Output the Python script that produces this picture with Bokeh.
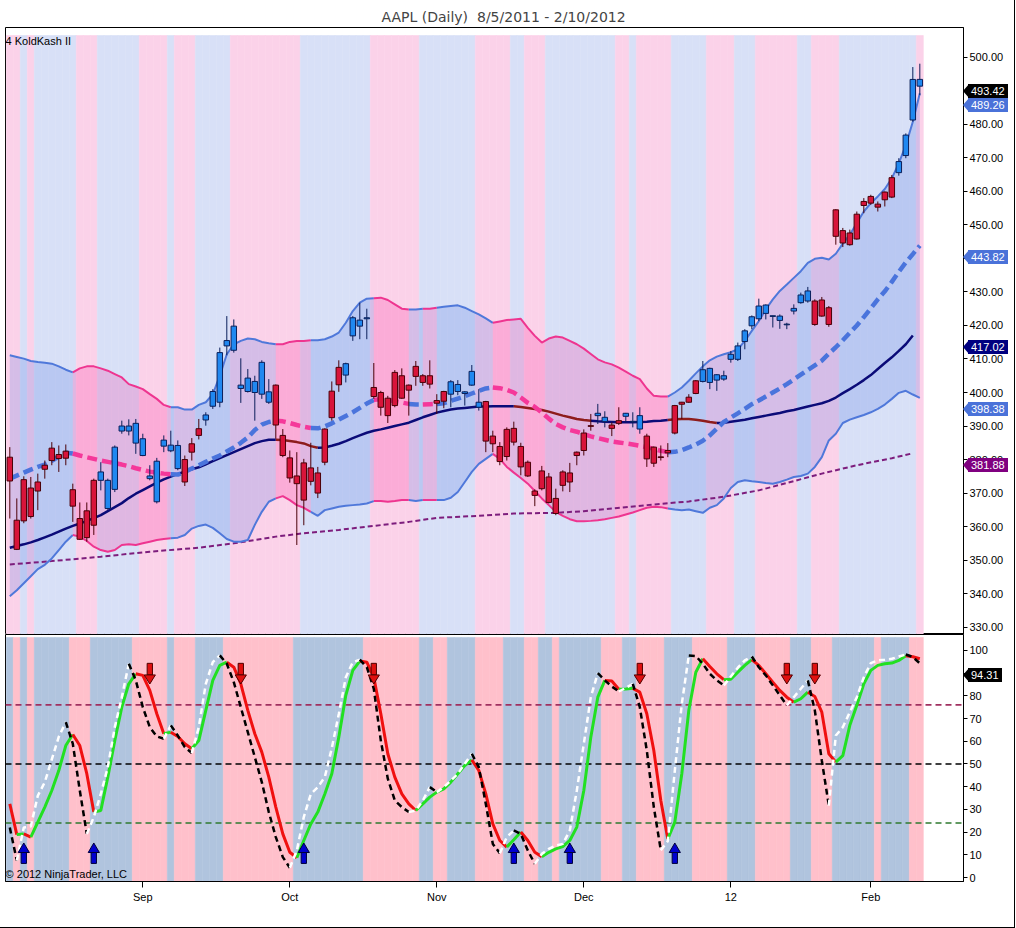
from bokeh.plotting import figure
from bokeh.layouts import column
from bokeh.models import Range1d, FixedTicker, PrintfTickFormatter, Label, Div
from bokeh.embed import file_html
from bokeh.resources import INLINE

FONT = "Liberation Sans"
TITLE_FONT = "DejaVu Sans"

# ------------------------------------------------------------------ data
title_text = "AAPL (Daily)\u00a0 8/5/2011 - 2/10/2012"
month_ticks = [19, 40, 61, 82, 103, 123]
month_labels = ["Sep", "Oct", "Nov", "Dec", "12", "Feb"]
price_ticks = list(range(330, 501, 10))
osc_ticks = list(range(0, 101, 10))

opens = [380.7, 361.9, 361.7, 371.5, 370.6, 378.3, 379.7, 381.5, 382.5, 371.0,
         362.4, 364.7, 360.4, 373.8, 365.4, 371.1, 388.5, 388.5, 390.8, 386.2,
         375.1, 367.4, 385.8, 382.6, 384.2, 373.3, 382.2, 387.2, 391.8, 395.9,
         397.1, 415.5, 419.8, 401.2, 400.3, 400.0, 409.0, 400.2, 402.2, 387.2,
         380.5, 375.1, 367.9, 373.5, 376.0, 379.2, 392.5, 407.5, 405.2, 416.9,
         421.6, 422.0, 401.5, 400.0, 398.3, 396.1, 405.0, 402.2, 407.8, 403.0,
         402.5, 397.6, 400.3, 399.5, 402.4, 400.2, 402.2, 397.1, 397.3, 387.0,
         383.9, 380.9, 389.3, 383.9, 379.2, 370.6, 371.3, 374.8, 368.4, 372.3,
         376.0, 381.2, 382.7, 389.9, 393.8, 392.6, 390.3, 390.8, 392.9, 391.2,
         393.1, 387.0, 383.7, 380.6, 382.7, 387.9, 397.1, 397.1, 399.7, 403.3,
         407.2, 403.7, 404.0, 409.9, 409.9, 415.2, 419.9, 425.8, 426.1, 422.9,
         422.8, 420.4, 424.3, 426.8, 430.3, 427.3, 422.8, 425.3, 454.5, 448.3,
         444.1, 445.8, 455.8, 458.5, 456.2, 457.5, 458.3, 465.6, 470.7, 481.3,
         491.4]
highs = [383.7, 368.4, 375.0, 374.8, 375.8, 379.7, 385.2, 384.2, 384.5, 372.8,
         367.2, 367.2, 374.3, 379.2, 374.3, 384.2, 391.6, 392.0, 392.1, 387.7,
         378.3, 380.5, 387.2, 388.6, 385.7, 381.2, 386.4, 392.1, 394.1, 401.0,
         413.4, 422.8, 421.8, 410.2, 407.0, 405.0, 409.6, 404.0, 402.4, 389.1,
         382.7, 382.2, 380.2, 385.0, 377.8, 389.3, 403.3, 409.6, 408.9, 422.8,
         426.8, 425.0, 408.8, 400.5, 399.0, 406.7, 407.2, 402.4, 409.4, 405.5,
         409.6, 399.5, 400.5, 403.7, 403.7, 400.4, 408.2, 401.0, 397.5, 388.6,
         385.2, 389.6, 391.3, 385.0, 379.7, 371.1, 378.1, 376.0, 371.3, 376.8,
         379.0, 382.4, 389.0, 393.6, 396.6, 394.4, 391.1, 395.6, 393.9, 394.1,
         395.6, 387.7, 383.9, 384.2, 384.9, 396.3, 397.2, 399.5, 403.7, 409.4,
         407.4, 405.5, 406.5, 412.4, 414.9, 418.9, 423.0, 428.0, 426.3, 422.9,
         423.3, 420.8, 426.3, 429.8, 431.5, 427.8, 428.5, 425.8, 454.7, 449.1,
         448.6, 454.0, 458.0, 459.0, 457.0, 460.0, 464.9, 469.9, 477.3, 497.1,
         498.1]
lows = [362.4, 353.0, 361.0, 362.4, 364.9, 374.3, 378.3, 376.3, 378.3, 361.4,
        356.0, 355.5, 357.5, 370.8, 365.0, 370.3, 387.7, 387.2, 381.7, 381.0,
        373.8, 366.9, 382.2, 382.2, 376.8, 372.1, 379.7, 386.0, 390.1, 395.1,
        395.6, 411.1, 411.9, 396.9, 400.0, 391.6, 398.1, 396.6, 386.2, 380.7,
        373.1, 354.5, 360.4, 372.3, 368.5, 378.3, 391.6, 400.2, 403.0, 415.4,
        415.9, 415.9, 398.1, 393.1, 390.9, 395.6, 398.1, 393.1, 402.0, 402.0,
        401.2, 393.6, 395.3, 395.6, 399.2, 396.1, 402.0, 394.6, 382.2, 382.2,
        378.3, 379.7, 384.2, 375.3, 374.8, 366.1, 370.8, 366.9, 363.4, 370.5,
        370.3, 378.3, 381.2, 388.6, 390.6, 389.6, 387.0, 390.3, 391.1, 389.6,
        387.7, 377.8, 377.8, 379.7, 380.7, 387.5, 392.1, 396.9, 399.5, 403.0,
        401.0, 400.5, 403.5, 408.9, 409.4, 412.9, 418.9, 421.3, 421.8, 419.4,
        419.0, 418.9, 423.3, 426.5, 426.8, 419.9, 422.6, 419.6, 444.1, 443.4,
        443.8, 445.6, 453.5, 456.0, 454.0, 455.5, 458.0, 464.7, 469.9, 480.8,
        488.7]
closes = [373.6, 353.2, 374.0, 363.0, 373.3, 377.1, 383.4, 380.3, 380.4, 366.1,
          356.2, 356.7, 373.8, 376.3, 373.8, 383.7, 390.0, 390.0, 384.9, 381.2,
          374.3, 379.5, 384.0, 384.3, 377.3, 380.0, 384.7, 389.2, 393.3, 400.3,
          411.9, 413.9, 412.6, 402.2, 404.3, 403.3, 399.5, 397.1, 390.3, 381.2,
          374.5, 372.8, 379.0, 377.5, 370.0, 389.1, 400.4, 402.3, 408.6, 422.3,
          419.8, 422.3, 398.8, 395.6, 393.1, 406.0, 398.3, 400.7, 404.8, 405.0,
          405.0, 396.8, 397.4, 403.2, 400.3, 399.7, 406.3, 395.6, 385.5, 384.7,
          379.4, 389.0, 385.2, 377.8, 375.1, 369.3, 376.6, 367.2, 363.9, 376.3,
          373.3, 382.2, 387.9, 390.1, 393.1, 391.3, 389.3, 391.6, 393.8, 391.4,
          389.1, 380.2, 378.9, 380.8, 382.0, 396.1, 396.5, 398.6, 403.5, 406.8,
          403.0, 405.3, 405.0, 411.4, 413.9, 418.4, 422.6, 422.0, 423.6, 422.7,
          421.5, 420.2, 425.1, 429.1, 427.3, 420.3, 427.6, 420.3, 446.6, 444.6,
          447.6, 453.2, 457.0, 456.5, 455.3, 459.8, 464.1, 468.9, 476.8, 493.4,
          493.42]

# colour states, given as (state, number of bars) runs
candle_runs = [("R", 13), ("B", 12), ("R", 3), ("B", 10), ("R", 10), ("B", 4), ("R", 11),
               ("B", 5), ("R", 16), ("B", 2), ("R", 2), ("B", 3), ("R", 8), ("B", 16),
               ("R", 12), ("B", 4)]
top_bg_runs = [("P", 2), ("B", 1), ("P", 1), ("B", 6), ("P", 3), ("B", 6), ("P", 4), ("B", 1),
               ("P", 3), ("B", 5), ("P", 10), ("B", 10), ("P", 7), ("B", 8), ("P", 5), ("B", 2),
               ("P", 3), ("B", 10), ("P", 2), ("B", 1), ("P", 5), ("B", 5), ("P", 4), ("B", 3),
               ("P", 6), ("B", 2), ("P", 4), ("B", 11), ("P", 1)]
osc_bg_runs = [("B", 1), ("P", 1), ("B", 1), ("P", 1), ("B", 5), ("P", 3), ("B", 6), ("P", 5),
               ("B", 1), ("P", 3), ("B", 4), ("P", 10), ("B", 10), ("P", 8), ("B", 2), ("P", 2),
               ("B", 4), ("P", 4), ("B", 3), ("P", 2), ("B", 2), ("P", 1), ("B", 6), ("P", 3),
               ("B", 2), ("P", 4), ("B", 4), ("P", 5), ("B", 4), ("P", 5), ("B", 3), ("P", 3),
               ("B", 6), ("P", 1), ("B", 4), ("P", 2)]
trend_runs = [("B", 10), ("P", 14), ("B", 15), ("P", 5), ("B", 9), ("P", 5), ("B", 2), ("P", 2),
              ("B", 8), ("P", 25), ("B", 36)]
sma_runs = [("U", 39), ("D", 6), ("U", 28), ("D", 11), ("U", 11), ("D", 7), ("U", 28)]

upper_band = [411.1, 410.6, 410.1, 409.4, 409.1, 408.9, 408.6, 407.8, 406.8, 406.0,
              407.2, 407.8, 407.8, 407.2, 406.5, 405.5, 404.5, 402.5, 401.8, 401.0,
              399.5, 398.1, 396.3, 395.6, 395.6, 394.9, 394.9, 396.3, 397.1, 399.5,
              405.0, 411.4, 414.4, 415.4, 416.1, 415.9, 415.1, 414.7, 414.4, 414.4,
              415.1, 415.4, 415.4, 415.6, 415.6, 415.9, 416.7, 417.9, 420.8, 424.3,
              426.8, 428.0, 428.1, 428.3, 427.6, 426.3, 425.0, 424.8, 424.8, 425.0,
              425.0, 425.3, 425.6, 425.8, 426.0, 425.3, 424.3, 423.3, 422.1, 420.8,
              421.2, 421.6, 421.8, 422.0, 419.3, 416.9, 414.9, 416.1, 416.7, 416.4,
              415.4, 414.4, 413.1, 411.5, 409.9, 409.0, 408.4, 407.4, 406.2, 405.0,
              404.0, 401.2, 399.0, 398.8, 398.8, 400.0, 401.5, 403.5, 405.7, 407.8,
              409.6, 410.7, 411.4, 412.0, 412.9, 415.4, 418.4, 421.3, 424.8, 427.8,
              430.3, 432.2, 434.2, 436.2, 438.7, 439.9, 440.2, 439.7, 441.4, 444.4,
              447.1, 450.6, 454.0, 456.5, 458.5, 460.7, 463.9, 468.4, 473.8, 480.8,
              489.3]
lower_band = [339.2, 341.0, 343.1, 345.2, 347.3, 348.6, 350.5, 353.0, 355.5, 357.5,
              357.0, 355.7, 354.0, 353.0, 352.5, 353.0, 354.5, 354.7, 354.5, 355.0,
              355.5, 356.0, 356.3, 356.5, 356.7, 357.5, 359.4, 360.2, 360.6, 359.6,
              358.0, 356.3, 355.5, 355.5, 356.0, 360.5, 364.4, 367.4, 368.4, 369.1,
              367.9, 366.4, 365.6, 364.4, 363.2, 364.9, 365.4, 365.9, 366.2, 366.4,
              366.6, 366.9, 367.6, 367.6, 367.4, 367.6, 367.9, 367.9, 367.6, 367.9,
              367.9, 367.9, 367.9, 368.6, 370.3, 373.3, 376.3, 378.7, 380.2, 381.7,
              380.2, 377.8, 376.1, 374.5, 372.8, 370.6, 368.4, 366.4, 364.4, 363.2,
              362.2, 361.6, 361.6, 361.7, 361.9, 362.2, 362.6, 363.0, 363.6, 364.2,
              364.9, 365.6, 365.9, 365.8, 365.4, 365.1, 364.9, 365.1, 364.6, 364.1,
              365.6, 366.4, 368.4, 371.5, 373.3, 373.8, 373.5, 373.3, 373.0, 372.8,
              373.3, 374.0, 374.8, 375.1, 375.8, 377.8, 380.7, 385.7, 387.7, 390.9,
              391.9, 392.6, 393.3, 394.1, 395.1, 396.4, 398.1, 399.9, 400.5, 399.4,
              398.4]
mid_line = [374.3, 375.2, 376.1, 377.0, 377.8, 378.5, 379.6, 380.9, 382.0, 381.8,
            381.2, 380.7, 380.2, 379.7, 379.3, 378.9, 378.5, 378.0, 377.4, 376.9,
            376.4, 376.1, 375.8, 375.6, 375.5, 376.3, 377.3, 378.3, 379.3, 380.3,
            381.2, 382.4, 383.6, 385.0, 386.6, 388.8, 390.4, 391.2, 391.6, 391.4,
            390.9, 390.3, 389.8, 389.4, 389.3, 389.9, 390.8, 391.9, 393.0, 394.1,
            395.4, 396.7, 397.8, 398.0, 397.8, 397.4, 397.0, 396.6, 396.4, 396.4,
            396.5, 396.6, 396.8, 397.5, 398.2, 398.9, 399.7, 400.5, 401.2, 401.5,
            401.3, 400.8, 400.0, 398.5, 396.9, 395.7, 394.0, 392.2, 390.6, 389.6,
            388.8, 388.3, 387.6, 386.9, 386.4, 385.9, 385.4, 385.1, 384.8, 384.5,
            384.1, 383.7, 383.2, 382.6, 382.2, 382.3, 382.8, 383.6, 384.5, 385.6,
            387.2, 389.2, 391.2, 392.5, 393.8, 395.1, 396.5, 397.6, 398.8, 400.0,
            401.2, 402.5, 403.9, 405.3, 406.7, 408.1, 409.5, 411.6, 413.5, 415.6,
            417.8, 420.0, 422.5, 425.1, 427.8, 430.2, 433.0, 436.0, 438.8, 441.3,
            443.82]
sma_line = [353.7, 354.2, 354.7, 355.3, 356.0, 356.8, 357.6, 358.5, 359.4, 360.2,
            360.9, 361.7, 362.5, 363.4, 364.6, 365.8, 367.0, 368.5, 369.8, 370.9,
            372.0, 373.1, 374.1, 374.9, 375.7, 376.4, 377.1, 377.7, 378.6, 379.5,
            380.4, 381.3, 382.2, 383.1, 384.0, 384.9, 385.5, 385.9, 385.9, 385.8,
            385.5, 385.2, 384.8, 384.0, 383.5, 383.6, 384.1, 384.7, 385.5, 386.4,
            387.2, 388.0, 388.6, 389.0, 389.5, 390.0, 390.5, 391.0, 391.8, 392.6,
            393.3, 394.0, 394.5, 394.9, 395.2, 395.4, 395.6, 395.8, 395.8, 395.9,
            395.9, 395.9, 395.9, 395.7, 395.4, 395.1, 394.8, 394.3, 393.7, 393.1,
            392.6, 392.1, 391.8, 391.6, 391.4, 391.3, 391.2, 391.1, 391.1, 391.1,
            391.2, 391.3, 391.5, 391.6, 391.8, 392.0, 392.1, 392.1, 391.9, 391.6,
            391.2, 390.9, 391.0, 391.3, 391.6, 391.9, 392.3, 392.7, 393.1, 393.5,
            393.9, 394.4, 394.8, 395.3, 395.8, 396.3, 396.8, 397.5, 398.5, 399.8,
            401.0, 402.3, 403.7, 405.2, 407.0, 408.8, 410.5, 412.4, 414.4, 417.02]
long_ma_bars = [0, 6, 13, 20, 27, 32, 38, 42, 47, 52, 57, 61, 67, 72, 78, 82, 86, 91,
                97, 102, 107, 111, 116, 121, 126, 129]
long_ma_vals = [348.7, 349.7, 351.0, 352.5, 353.7, 355.0, 357.0, 358.0, 359.0, 360.2,
                361.4, 362.6, 363.2, 363.9, 364.1, 364.6, 365.4, 366.4, 367.5, 368.9,
                370.8, 373.0, 375.8, 378.3, 380.4, 381.88]

osc_k = [32.4, 18.9, 19.2, 17.8, 24.4, 31.0, 38.3, 47.1, 58.1, 63.0,
         58.1, 45.7, 28.8, 29.5, 44.2, 60.3, 75.0, 85.3, 89.7, 89.0,
         82.4, 72.1, 63.3, 64.0, 62.1, 58.9, 56.7, 60.3, 73.6, 86.8,
         93.4, 94.8, 92.6, 85.3, 73.6, 63.3, 55.2, 44.2, 31.0, 19.2,
         11.1, 8.7, 16.3, 23.6, 28.8, 36.8, 45.7, 61.8, 80.2, 91.2,
         95.3, 94.8, 88.2, 72.1, 54.5, 44.2, 36.8, 32.4, 29.5, 32.4,
         35.4, 37.6, 39.0, 42.0, 45.7, 49.3, 51.8, 47.1, 36.8, 23.6,
         16.3, 13.4, 16.6, 20.0, 16.3, 11.1, 9.2, 11.1, 12.6, 13.6,
         16.3, 22.2, 38.3, 61.8, 79.4, 86.8, 86.5, 82.9, 83.0, 83.3,
         81.6, 72.1, 55.9, 33.9, 17.0, 24.4, 45.7, 73.6, 90.4, 96.3,
         92.9, 89.7, 87.1, 87.3, 90.4, 93.4, 95.9, 93.4, 89.7, 86.0,
         82.4, 79.4, 77.2, 78.7, 81.6, 79.7, 72.8, 54.5, 50.8, 53.7,
         67.0, 75.8, 85.3, 91.2, 93.4, 94.1, 94.4, 95.6, 97.6, 97.2,
         96.3]
osc_d = [22.0, 7.5, 22.0, 22.5, 36.0, 42.0, 52.0, 62.0, 68.4, 58.9,
         38.3, 19.2, 26.6, 36.8, 48.6, 66.2, 79.4, 94.1, 86.8, 75.0,
         66.2, 62.1, 61.1, 67.0, 62.5, 57.4, 54.8, 66.2, 85.3, 94.8,
         97.8, 94.1, 86.0, 75.0, 64.0, 53.0, 42.0, 28.8, 17.8, 9.0,
         4.3, 11.9, 26.6, 36.8, 39.8, 44.2, 57.0, 72.0, 88.2, 94.8,
         95.9, 92.6, 83.1, 60.3, 43.5, 33.9, 31.0, 28.8, 29.5, 33.9,
         39.8, 37.6, 39.8, 42.7, 45.7, 50.1, 54.5, 48.6, 32.4, 14.8,
         10.7, 17.8, 20.7, 19.2, 11.9, 6.0, 10.4, 12.6, 14.1, 14.8,
         20.7, 38.3, 58.9, 79.4, 90.0, 86.8, 84.1, 81.9, 83.5, 85.3,
         75.0, 55.9, 31.0, 12.0, 16.0, 47.1, 76.5, 97.8, 97.5, 94.1,
         89.7, 86.8, 84.6, 88.5, 92.4, 95.6, 97.3, 92.6, 89.0, 84.6,
         80.2, 75.8, 79.4, 83.1, 86.8, 73.6, 51.5, 31.7, 62.5, 66.2,
         72.8, 79.4, 88.2, 94.4, 95.6, 95.9, 96.3, 97.3, 98.2, 97.1,
         94.31]
osc_levels = [76, 50, 24]
up_arrow_bars = [2, 12, 42, 72, 80, 95]
down_arrow_bars = [20, 33, 52, 90, 111, 115]
price_tags = [493.42, 489.26, 443.82, 417.02, 398.38, 381.88]
osc_tag = 94.31

# ------------------------------------------------------------------ styles
TOP_BG = {"P": "#fbd2e9", "B": "#d8e0f7"}
OSC_BG = {"P": "#ffc0cb", "B": "#b0c4de"}
BAND_LINE = {"P": "#ee3590", "B": "#4f78da"}
BAND_FILL = {"P": "#ff1493", "B": "#4169e1"}
MID_LINE = {"P": "#f5389a", "B": "#4a74dc"}
SMA_COL = {"U": "#0b0b78", "D": "#8e1c1c"}
CANDLE_FILL = {"R": "#d8143a", "B": "#2088f0"}
CANDLE_LINE = {"R": "#4a0008", "B": "#0a1f5a"}
TAG_BG = ["#000000", "#4a72d9", "#4a72d9", "#000080", "#4a72d9", "#800080"]
LEVEL_COL = ["#a03060", "#000000", "#2f7a2f"]

# geometry of the two panels (px)
W = 1014
BORDER_L, BORDER_R = 5, 51
P1_TOP, P1_H = 27, 634
P2_H, P2_BOTTOM = 292, 45
P1_Y = (327.8, 508.9)
P2_Y = (-1.76, 107.0)


def expand(runs):
    out = []
    for s, n in runs:
        out += [s] * n
    return out


def index_runs(states):
    """Runs of equal state; each run also includes the bar before it so lines join."""
    runs = []
    start = 0
    for i in range(1, len(states) + 1):
        if i == len(states) or states[i] != states[start]:
            runs.append((states[start], list(range(max(start - 1, 0), i))))
            start = i
    return runs


def slope_states(vals, up, down):
    st = [up]
    for i in range(1, len(vals)):
        st.append(up if vals[i] >= vals[i - 1] else down)
    st[0] = st[1]
    return st


N = len(closes)
idx = list(range(N))
candle_state = expand(candle_runs)
top_bg = expand(top_bg_runs)
osc_bg = expand(osc_bg_runs)
trend = expand(trend_runs)
sma_state = expand(sma_runs)

x_range = Range1d(-0.614, 136.24)


def style_axis(ax):
    ax.axis_line_color = "black"
    ax.major_tick_line_color = "black"
    ax.major_tick_out = 4
    ax.major_tick_in = 0
    ax.minor_tick_line_color = None
    ax.major_label_text_font = FONT
    ax.major_label_text_font_size = "11px"
    ax.major_label_text_color = "black"
    ax.major_label_standoff = 2


# ------------------------------------------------------------------ price panel
p1 = figure(width=W, height=P1_H, x_range=x_range, y_range=Range1d(*P1_Y),
            output_backend="svg", toolbar_location=None, tools="",
            x_axis_location=None, y_axis_location="right",
            min_border_left=BORDER_L, min_border_right=BORDER_R, min_border_top=P1_TOP,
            min_border_bottom=0, title=title_text)
p1.title.align = "left"
p1.title.offset = 376
p1.title.text_font = TITLE_FONT
p1.title.text_font_size = "14px"
p1.title.text_font_style = "normal"
p1.title.standoff = 6
p1.grid.visible = False
p1.outline_line_color = "black"
p1.outline_line_width = 1
p1.background_fill_color = "white"
p1.border_fill_color = "white"
style_axis(p1.yaxis[0])
p1.yaxis.ticker = FixedTicker(ticks=price_ticks)
p1.yaxis.formatter = PrintfTickFormatter(format="%.2f")

top_cols = [TOP_BG[s] for s in top_bg]
p1.quad(left=[i - 0.5 for i in idx], right=[i + 0.5 for i in idx], bottom=320, top=506.5,
        fill_color=top_cols, line_color=top_cols, line_width=0.6)

for s, ids in index_runs(trend):
    p1.varea(x=ids, y1=[lower_band[i] for i in ids], y2=[upper_band[i] for i in ids],
             fill_color=BAND_FILL[s], fill_alpha=0.2)

p1.line(long_ma_bars, long_ma_vals, line_color="#7d1d7d", line_width=2, line_dash="5 3")

runs = index_runs(sma_state)
p1.multi_line(xs=[r[1] for r in runs], ys=[[sma_line[i] for i in r[1]] for r in runs],
              line_color=[SMA_COL[r[0]] for r in runs], line_width=2.5)

runs = index_runs(trend)
p1.multi_line(xs=[r[1] for r in runs], ys=[[mid_line[i] for i in r[1]] for r in runs],
              line_color=[MID_LINE[r[0]] for r in runs], line_width=4.5, line_dash="10 5")
p1.multi_line(xs=[r[1] for r in runs], ys=[[upper_band[i] for i in r[1]] for r in runs],
              line_color=[BAND_LINE[r[0]] for r in runs], line_width=2)
p1.multi_line(xs=[r[1] for r in runs], ys=[[lower_band[i] for i in r[1]] for r in runs],
              line_color=[BAND_LINE[r[0]] for r in runs], line_width=2)

line_cols = [CANDLE_LINE[s] for s in candle_state]
p1.segment(x0=idx, y0=highs, x1=idx, y1=lows, line_color=line_cols, line_width=1)
p1.vbar(x=idx, width=0.78,
        top=[max(o, c) for o, c in zip(opens, closes)],
        bottom=[min(o, c) for o, c in zip(opens, closes)],
        fill_color=[CANDLE_FILL[s] for s in candle_state], line_color=line_cols, line_width=1)

p1.add_layout(Label(x=-0.6, y=506.8, text="4 KoldKash II", text_font=FONT,
                    text_font_size="11px", text_baseline="top", text_color="black"))

# ------------------------------------------------------------------ oscillator panel
p2 = figure(width=W, height=P2_H, x_range=x_range, y_range=Range1d(*P2_Y),
            output_backend="svg", toolbar_location=None, tools="",
            y_axis_location="right",
            min_border_left=BORDER_L, min_border_right=BORDER_R, min_border_top=0,
            min_border_bottom=P2_BOTTOM)
p2.grid.visible = False
p2.outline_line_color = "black"
p2.background_fill_color = "white"
p2.border_fill_color = "white"
style_axis(p2.yaxis[0])
p2.yaxis.ticker = FixedTicker(ticks=osc_ticks)
style_axis(p2.xaxis[0])
p2.xaxis.major_tick_out = 6
p2.xaxis.major_label_standoff = 3
p2.xaxis.ticker = FixedTicker(ticks=month_ticks)
p2.xaxis.major_label_overrides = {t: l for t, l in zip(month_ticks, month_labels)}

osc_cols = [OSC_BG[s] for s in osc_bg]
p2.quad(left=[i - 0.5 for i in idx], right=[i + 0.5 for i in idx], bottom=-5, top=105.7,
        fill_color=osc_cols, line_color=osc_cols, line_width=0.6)

p2.segment(x0=[x_range.start] * 3, x1=[x_range.end] * 3, y0=osc_levels, y1=osc_levels,
           line_color=LEVEL_COL, line_width=1.6, line_dash="6 4")

runs = index_runs(slope_states(osc_k, "G", "R"))
p2.multi_line(xs=[r[1] for r in runs], ys=[[osc_k[i] for i in r[1]] for r in runs],
              line_color=["#22e022" if r[0] == "G" else "#f01010" for r in runs], line_width=3)
runs = index_runs(slope_states(osc_d, "W", "K"))
p2.multi_line(xs=[r[1] for r in runs], ys=[[osc_d[i] for i in r[1]] for r in runs],
              line_color=["#ffffff" if r[0] == "W" else "#000000" for r in runs],
              line_width=2.5, line_dash="6 4")

# arrows (shaft + head)
p2.quad(left=[b - 0.38 for b in up_arrow_bars], right=[b + 0.38 for b in up_arrow_bars],
        bottom=6.2, top=11.0, fill_color="#0000d0", line_color="#00003a", line_width=1)
p2.patches(xs=[[b - 0.8, b + 0.8, b] for b in up_arrow_bars],
           ys=[[11.0, 11.0, 15.2] for _ in up_arrow_bars],
           fill_color="#0000d0", line_color="#00003a", line_width=1)
p2.quad(left=[b - 0.38 for b in down_arrow_bars], right=[b + 0.38 for b in down_arrow_bars],
        bottom=89.2, top=94.3, fill_color="#e01010", line_color="#500000", line_width=1)
p2.patches(xs=[[b - 0.8, b + 0.8, b] for b in down_arrow_bars],
           ys=[[89.2, 89.2, 85.2] for _ in down_arrow_bars],
           fill_color="#e01010", line_color="#500000", line_width=1)

p2.add_layout(Label(x=-0.6, y=-1.3, text="\u00a9 2012 NinjaTrader, LLC", text_font=FONT,
                    text_font_size="11px", text_baseline="bottom", text_color="black"))

# ------------------------------------------------------------------ value tags on the price scales
# (Bokeh clips annotations to the plot frame, so the tags that sit on the axis are an HTML overlay
#  positioned with the same linear mapping as the panels' y ranges.)
p1_frame_h = P1_H - P1_TOP
p2_frame_h = P2_H - P2_BOTTOM


def p1_px(v):
    return P1_TOP + (P1_Y[1] - v) * p1_frame_h / (P1_Y[1] - P1_Y[0])


def p2_px(v):
    return P1_H + (P2_Y[1] - v) * p2_frame_h / (P2_Y[1] - P2_Y[0])


tag_items = [(p1_px(v), v, c) for v, c in zip(price_tags, TAG_BG)] + [(p2_px(osc_tag), osc_tag, "#000000")]
origin = P1_H + P2_H
axis_x = W - BORDER_R
html = ['<div style="position:relative;width:0;height:0;overflow:visible;">']
for cy, v, c in tag_items:
    top = cy - origin - 7
    html.append(
        f'<span style="position:absolute;left:{axis_x}px;top:{top:.1f}px;width:0;height:0;'
        f'border-top:7px solid transparent;border-bottom:7px solid transparent;'
        f'border-right:6px solid {c};"></span>')
    html.append(
        f'<span style="position:absolute;left:{axis_x + 5}px;top:{top:.1f}px;height:14px;'
        f'line-height:14px;padding:0 3px;background:{c};color:#ffffff;white-space:nowrap;'
        f'font-family:\'{FONT}\';font-size:11px;">{v:.2f}</span>')
html.append('</div>')
overlay = Div(text="".join(html), width=W, height=1, margin=0,
              styles={"overflow": "visible", "z-index": "5"})

layout = column(p1, p2, overlay,
                styles={"border-right": "1px solid #000", "border-bottom": "1px solid #000"})
open("out.html", "w").write(file_html(layout, INLINE, title="AAPL (Daily)"))
